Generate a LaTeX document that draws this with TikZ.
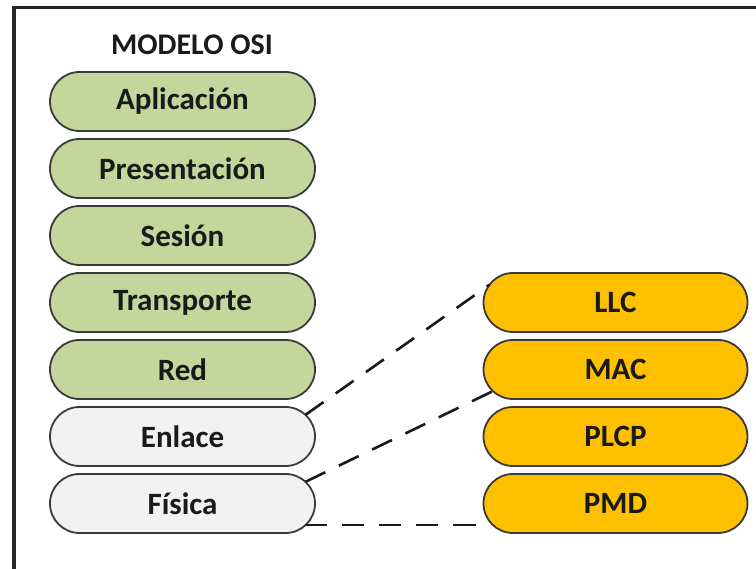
\documentclass[tikz,border=0pt]{standalone}
\usepackage{fontspec}
\setmainfont{Carlito}
\usetikzlibrary{shapes.misc}
\definecolor{olivefill}{HTML}{C3D69B}
\definecolor{grayfill}{HTML}{F2F2F2}
\definecolor{orangefill}{HTML}{FFC000}
\definecolor{edgecol}{HTML}{3A3A3A}
\definecolor{txtcol}{HTML}{1A1A1A}
\tikzset{
  layer/.style={rounded rectangle, draw=edgecol, line width=1.8pt, minimum width=265pt,
    minimum height=59pt, inner sep=0pt, outer sep=0pt, text=txtcol,
    font=\fontsize{31}{34}\selectfont\bfseries},
  upper/.style={layer, fill=olivefill},
  lower/.style={layer, fill=grayfill},
  sub/.style={layer, fill=orangefill, minimum width=264pt},
  link/.style={draw=black!90, line width=2.6pt, dash pattern=on 22pt off 15pt},
  frame/.style={draw=black!85, line width=3.5pt}
}
\begin{document}
\begin{tikzpicture}[x=1pt,y=-1pt]
\useasboundingbox (0,0) rectangle (756,569);
\coordinate (ftl) at (14,7.5);
\coordinate (ftr) at (760,7.5);
\coordinate (fbl) at (14,573);
\draw[frame] (ftr) -- (ftl) -- (fbl);
\node[text=txtcol, font=\fontsize{30}{33}\selectfont\bfseries] (title) at (192,45) {MODELO OSI};
\node[upper] (apl) at (182.5,101.5) {Aplicación};
\node[upper] (pre) at (182.5,168.5) {Presentación};
\node[upper] (ses) at (182.5,235.5) {Sesión};
\node[upper] (tra) at (182.5,302.5) {Transporte};
\node[upper] (red) at (182.5,369.5) {Red};
\node[lower] (enl) at (182.5,436.5) {Enlace};
\node[lower] (fis) at (182.5,503.5) {Física};
\node[sub] (llc) at (615.5,302.5) {LLC};
\node[sub] (mac) at (615.5,369.5) {MAC};
\node[sub] (plcp) at (615.5,436.5) {PLCP};
\node[sub] (pmd) at (615.5,503.5) {PMD};
\draw[link] (enl.10) -- (llc.172);
\draw[link] (fis.10) -- (mac.190);
\draw[link] (fis.-10) -- (fis.-10 -| pmd.west);
\end{tikzpicture}
\end{document}
